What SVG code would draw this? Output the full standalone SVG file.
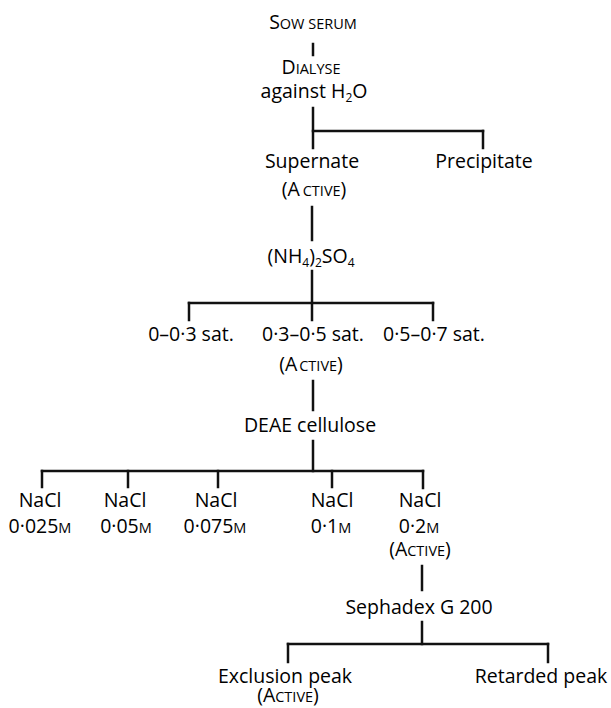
<svg xmlns="http://www.w3.org/2000/svg" width="611" height="708" viewBox="0 0 611 708">
<style>
text{font-family:"Open Sans","DejaVu Sans",sans-serif;font-size:19.5px;fill:#000;text-anchor:middle}
.sc{font-size:14.5px}
.sub{font-size:12px}
.c line{stroke:#111;stroke-width:2.5;stroke-linecap:square}
</style>
<rect width="611" height="708" fill="#fff"/>
<g class="c" id="connectors">
<line x1="313" y1="44" x2="313" y2="55"/>
<line x1="313" y1="108" x2="313" y2="148"/>
<line x1="313" y1="131" x2="483" y2="131"/>
<line x1="483" y1="131" x2="483" y2="148"/>
<line x1="312" y1="207" x2="312" y2="240"/>
<line x1="312" y1="271" x2="312" y2="320"/>
<line x1="189" y1="303" x2="433" y2="303"/>
<line x1="189" y1="303" x2="189" y2="320"/>
<line x1="433" y1="303" x2="433" y2="320"/>
<line x1="313" y1="381" x2="313" y2="410"/>
<line x1="313" y1="441" x2="313" y2="471"/>
<line x1="42" y1="471" x2="423" y2="471"/>
<line x1="42" y1="471" x2="42" y2="487"/>
<line x1="128" y1="471" x2="128" y2="487"/>
<line x1="218" y1="471" x2="218" y2="487"/>
<line x1="332" y1="471" x2="332" y2="487"/>
<line x1="423" y1="471" x2="423" y2="488"/>
<line x1="422" y1="566" x2="422" y2="590"/>
<line x1="422" y1="622" x2="422" y2="644"/>
<line x1="288" y1="644" x2="548" y2="644"/>
<line x1="288" y1="644" x2="288" y2="662"/>
<line x1="548" y1="644" x2="548" y2="662"/>
</g>
<g id="sow"><text x="313" y="29">S<tspan class="sc">OW SERUM</tspan></text></g>
<g id="dialyse"><text x="311" y="74">D<tspan class="sc">IALYSE</tspan></text>
<text x="314" y="98">against H<tspan class="sub" dy="4">2</tspan><tspan dy="-4">O</tspan></text></g>
<g id="supernate"><text x="312" y="168">Supernate</text>
<text x="314" y="196">(A<tspan class="sc" dx="3">CTIVE</tspan>)</text></g>
<g id="precipitate"><text x="484" y="168">Precipitate</text></g>
<g id="ammonium"><text x="311" y="263">(NH<tspan class="sub" dy="4">4</tspan><tspan dy="-4">)</tspan><tspan class="sub" dy="4">2</tspan><tspan dy="-4">SO</tspan><tspan class="sub" dy="4">4</tspan></text></g>
<g id="f1"><text x="191" y="341">0–0·3 sat.</text></g>
<g id="f2"><text x="313" y="341">0·3–0·5 sat.</text>
<text x="311" y="371">(A<tspan class="sc" dx="2">CTIVE</tspan>)</text></g>
<g id="f3"><text x="434" y="341">0·5–0·7 sat.</text></g>
<g id="deae"><text x="310" y="432">DEAE cellulose</text></g>
<g id="n1"><text x="40" y="507">NaCl</text><text x="40" y="533">0·025<tspan class="sc">M</tspan></text></g>
<g id="n2"><text x="125" y="507">NaCl</text><text x="126" y="533">0·05<tspan class="sc">M</tspan></text></g>
<g id="n3"><text x="216" y="507">NaCl</text><text x="215" y="533">0·075<tspan class="sc">M</tspan></text></g>
<g id="n4"><text x="332" y="507">NaCl</text><text x="331" y="533">0·1<tspan class="sc">M</tspan></text></g>
<g id="n5"><text x="420" y="507">NaCl</text><text x="419" y="533">0·2<tspan class="sc">M</tspan></text>
<text x="420" y="556">(A<tspan class="sc">CTIVE</tspan>)</text></g>
<g id="sephadex"><text x="419" y="614">Sephadex G 200</text></g>
<g id="exclusion"><text x="285" y="683">Exclusion peak</text>
<text x="288" y="702">(A<tspan class="sc">CTIVE</tspan>)</text></g>
<g id="retarded"><text x="541" y="683">Retarded peak</text></g>
</svg>
